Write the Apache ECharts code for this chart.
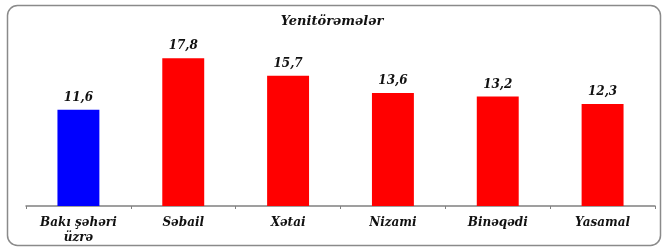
<!DOCTYPE html>
<html>
<head>
<meta charset="utf-8">
<script src="https://cdn.jsdelivr.net/npm/echarts@6/dist/echarts.min.js"></script>
<style>
  html, body { margin: 0; padding: 0; background: #fff; }
  #main { width: 664px; height: 247px; }
</style>
</head>
<body>
<div id="main"></div>
<script>
// kateqoriyalar və dəyərlər
var categories = ['Bakı şəhəri\nüzrə', 'Səbail', 'Xətai', 'Nizami', 'Binəqədi', 'Yasamal'];
var values = [11.6, 17.8, 15.7, 13.6, 13.2, 12.3];
var barColors = ['#0000ff', '#ff0000', '#ff0000', '#ff0000', '#ff0000', '#ff0000'];

var serif = 'DejaVu Serif';

var myChart = echarts.init(document.getElementById('main'));

var option = {
    animation: false,
    title: {
        text: 'Yenitörəmələr',
        left: 'center',
        top: 10,
        textStyle: { fontFamily: serif, fontSize: 13, fontWeight: 'bold', fontStyle: 'italic', color: '#111' }
    },
    graphic: [{
        type: 'rect',
        left: 5, top: 3,
        shape: { width: 653, height: 240, r: 10 },
        style: { fill: 'none', stroke: '#8a8a8a', lineWidth: 1.5 },
        silent: true
    }],
    grid: { left: 26, right: 9, top: 40, bottom: 41 },
    xAxis: {
        type: 'category',
        data: categories,
        axisLine: { lineStyle: { color: '#808080', width: 1.5 } },
        axisTick: { show: true, length: 3, lineStyle: { color: '#808080' } },
        axisLabel: {
            interval: 0,
            margin: 9,
            lineHeight: 15,
            fontFamily: serif, fontSize: 12, fontWeight: 'bold', fontStyle: 'italic', color: '#111'
        }
    },
    yAxis: {
        type: 'value',
        min: 0, max: 20,
        show: false
    },
    series: [{
        type: 'bar',
        barWidth: '40%',
        data: values.map(function (v, i) {
            return { value: v, itemStyle: { color: barColors[i] } };
        }),
        label: {
            show: true,
            position: 'top',
            distance: 6,
            formatter: function (p) { return String(p.value).replace('.', ','); },
            fontFamily: serif, fontSize: 12, fontWeight: 'bold', fontStyle: 'italic', color: '#111'
        }
    }]
};

myChart.setOption(option);
</script>
</body>
</html>
